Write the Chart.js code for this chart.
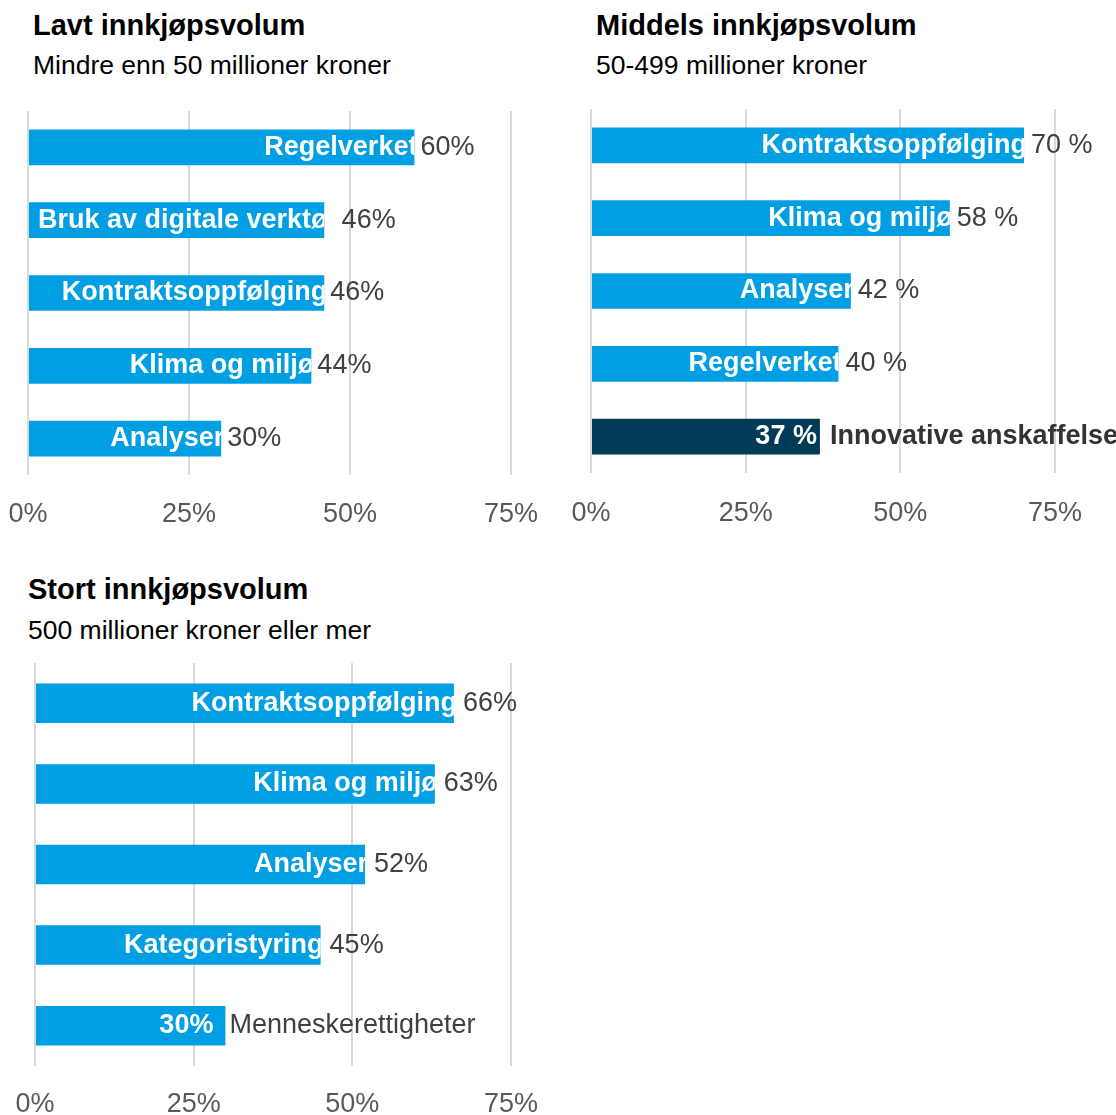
<!DOCTYPE html>
<html lang="no">
<head>
<meta charset="utf-8">
<title>Innkjøpsvolum</title>
<script src="https://cdn.jsdelivr.net/npm/chart.js@4/dist/chart.umd.min.js"></script>
<style>
  body { margin: 0; background: #fff; width: 1116px; height: 1115px; position: relative; overflow: hidden;
         font-family: "Liberation Sans", Arial, sans-serif; }
  .title { position: absolute; font-weight: bold; font-size: 29px; line-height: 29px; color: #000; white-space: nowrap; }
  .subtitle { position: absolute; font-size: 26.5px; line-height: 26px; color: #000; white-space: nowrap; }
  canvas { position: absolute; }
</style>
</head>
<body>
<div class="title" style="left:33px;top:11px">Lavt innkjøpsvolum</div>
<div class="subtitle" style="left:33px;top:52px">Mindre enn 50 millioner kroner</div>
<canvas id="lowChart" width="560" height="450" style="left:0;top:100px"></canvas>

<div class="title" style="left:596px;top:11px">Middels innkjøpsvolum</div>
<div class="subtitle" style="left:596px;top:52px">50-499 millioner kroner</div>
<canvas id="midChart" width="556" height="450" style="left:560px;top:100px"></canvas>

<div class="title" style="left:28px;top:575px">Stort innkjøpsvolum</div>
<div class="subtitle" style="left:28px;top:617px">500 millioner kroner eller mer</div>
<canvas id="highChart" width="560" height="465" style="left:0;top:650px"></canvas>

<script>
// Lavt innkjøpsvolum (under 50 mill.)
const lowCategories = ['Regelverket', 'Bruk av digitale verktøy', 'Kontraktsoppfølging', 'Klima og miljø', 'Analyser'];
const lowValues = [60, 46, 46, 44, 30];

// Middels innkjøpsvolum (50-499 mill.)
const midCategories = ['Kontraktsoppfølging', 'Klima og miljø', 'Analyser', 'Regelverket', 'Innovative anskaffelse'];
const midValues = [70, 58, 42, 40, 37];

// Stort innkjøpsvolum (500 mill. eller mer)
const highCategories = ['Kontraktsoppfølging', 'Klima og miljø', 'Analyser', 'Kategoristyring', 'Menneskerettigheter'];
const highValues = [66, 63, 52, 45, 30];

// Axis ticks (percent)
const xTicks = [0, 25, 50, 75];

const BLUE = '#009fe3';
const DARK = '#003c58';
const FONT = '"Liberation Sans", Arial, sans-serif';
const LABEL_SIZE = 27;

Chart.defaults.font.family = FONT;

// Draws the category name inside the bar (clipped) and the value after it.
// For the swapped bar the value goes inside and the name outside.
const barLabels = {
  id: 'barLabels',
  afterDatasetsDraw(chart, args, opts) {
    const ctx = chart.ctx;
    const meta = chart.getDatasetMeta(0);
    const cats = chart.data.labels;
    const vals = chart.data.datasets[0].data;

    meta.data.forEach((bar, i) => {
      const swap = i === opts.swapIndex;
      const valueText = vals[i] + opts.suffix;
      const inner = swap ? valueText : cats[i];
      const outer = swap ? cats[i] : valueText;
      const top = bar.y - bar.height / 2;

      ctx.save();
      ctx.font = 'bold ' + LABEL_SIZE + 'px ' + FONT;
      const innerWidth = ctx.measureText(inner).width;
      let innerRight = bar.x + (swap ? -opts.swapInnerPad : opts.overflow);
      // long names start just inside the bar and run past its end
      innerRight = Math.max(innerRight, bar.base + 9 + innerWidth);
      ctx.beginPath();
      ctx.rect(bar.base, top, bar.x - bar.base, bar.height);
      ctx.clip();
      ctx.fillStyle = '#fff';
      ctx.textAlign = 'right';
      ctx.textBaseline = 'middle';
      ctx.fillText(inner, innerRight, bar.y);
      ctx.restore();

      ctx.save();
      const boldOuter = swap && opts.swapOuterBold;
      ctx.font = (boldOuter ? 'bold ' : '') + LABEL_SIZE + 'px ' + FONT;
      ctx.fillStyle = boldOuter ? '#333333' : '#404040';
      ctx.textAlign = 'left';
      ctx.textBaseline = 'middle';
      const outerX = Math.max(bar.x + (swap ? opts.swapGap : opts.gap), innerRight - 1);
      ctx.fillText(outer, outerX, bar.y);
      ctx.restore();
    });
  }
};

function makeChart(id, categories, values, opts) {
  const colors = categories.map((c, i) => (i === opts.darkIndex ? DARK : BLUE));

  return new Chart(document.getElementById(id), {
    type: 'bar',
    data: {
      labels: categories,
      datasets: [{
        data: values,
        backgroundColor: colors,
        borderWidth: 0,
        barPercentage: 0.49,
        categoryPercentage: 1
      }]
    },
    options: {
      indexAxis: 'y',
      responsive: false,
      animation: false,
      events: [],
      layout: { padding: opts.padding },
      plugins: {
        legend: { display: false },
        tooltip: { enabled: false },
        barLabels: opts.labels
      },
      scales: {
        x: {
          min: 0,
          max: 75,
          afterBuildTicks: scale => {
            scale.ticks = xTicks.map(v => ({ value: v }));
          },
          afterFit: scale => {
            scale.height = opts.axisHeight;
            scale.paddingLeft = 0;
            scale.paddingRight = 0;
          },
          border: { display: false },
          grid: { color: '#d9d9d9', lineWidth: 2, drawTicks: false },
          ticks: {
            padding: opts.tickPad,
            color: '#595959',
            font: { size: LABEL_SIZE },
            callback: v => v + '%'
          }
        },
        y: { display: false }
      }
    },
    plugins: [barLabels]
  });
}

makeChart('lowChart', lowCategories, lowValues, {
  padding: { left: 28, right: 49, top: 11, bottom: 0 },
  axisHeight: 75,
  tickPad: 23,
  darkIndex: -1,
  labels: { suffix: '%', swapIndex: -1, overflow: 3, gap: 6 }
});

makeChart('midChart', midCategories, midValues, {
  padding: { left: 31, right: 61, top: 9, bottom: 0 },
  axisHeight: 77,
  tickPad: 24,
  darkIndex: 4,
  labels: { suffix: ' %', swapIndex: 4, overflow: 3, gap: 7, swapInnerPad: 3, swapGap: 10, swapOuterBold: true }
});

makeChart('highChart', highCategories, highValues, {
  padding: { left: 35, right: 49, top: 13, bottom: 0 },
  axisHeight: 49,
  tickPad: 22,
  darkIndex: -1,
  labels: { suffix: '%', swapIndex: 4, overflow: 3, gap: 9, swapInnerPad: 12, swapGap: 4, swapOuterBold: false }
});
</script>
</body>
</html>
